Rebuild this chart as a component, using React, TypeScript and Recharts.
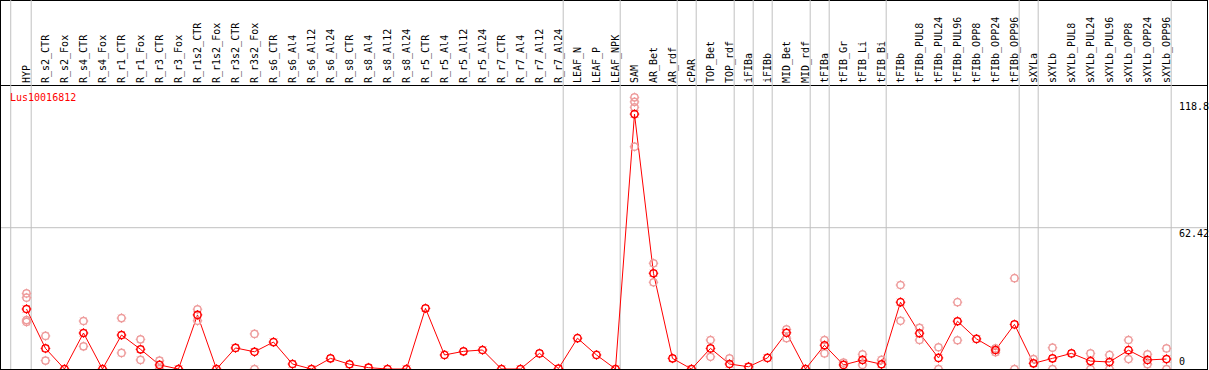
import React from "react";
import { ComposedChart, Line, Scatter, XAxis, YAxis, ReferenceLine } from "recharts";

const CATEGORIES = [
  "HYP", "R_s2_CTR", "R_s2_Fox", "R_s4_CTR", "R_s4_Fox", "R_r1_CTR", "R_r1_Fox", "R_r3_CTR", "R_r3_Fox",
  "R_r1s2_CTR", "R_r1s2_Fox", "R_r3s2_CTR", "R_r3s2_Fox", "R_s6_CTR", "R_s6_Al4", "R_s6_Al12", "R_s6_Al24",
  "R_s8_CTR", "R_s8_Al4", "R_s8_Al12", "R_s8_Al24", "R_r5_CTR", "R_r5_Al4", "R_r5_Al12", "R_r5_Al24",
  "R_r7_CTR", "R_r7_Al4", "R_r7_Al12", "R_r7_Al24", "LEAF_N", "LEAF_P", "LEAF_NPK", "SAM", "AR_Bet", "AR_rdf",
  "cPAR", "TOP_Bet", "TOP_rdf", "iFIBa", "iFIBb", "MID_Bet", "MID_rdf", "tFIBa", "tFIB_Gr", "tFIB_Li", "tFIB_Bi",
  "tFIBb", "tFIBb_PUL8", "tFIBb_PUL24", "tFIBb_PUL96", "tFIBb_OPP8", "tFIBb_OPP24", "tFIBb_OPP96",
  "sXYLa", "sXYLb", "sXYLb_PUL8", "sXYLb_PUL24", "sXYLb_PUL96", "sXYLb_OPP8", "sXYLb_OPP24", "sXYLb_OPP96",
];

const MEANS = [
  26.5, 9.1, 0, 15.9, 0, 15.0, 8.7, 1.8, 0,
  23.9, 0, 9.3, 7.6, 11.9, 2.2, 0, 4.7,
  2.1, 0.6, 0, 0, 26.8, 6.2, 7.8, 8.4,
  0, 0, 6.9, 0.2, 13.6, 6.2, 0, 112.6, 42.3, 4.7,
  0, 9.1, 2.2, 1.0, 4.9, 16.0, 0, 10.5, 1.8, 4.0, 2.1,
  29.5, 15.8, 4.9, 21.1, 13.3, 8.4, 19.7,
  2.5, 4.7, 6.9, 3.5, 3.1, 8.3, 4.0, 4.4,
];

// visible replicate values per category index
const REPLICATES: Record<number, number[]> = {
  0: [33.4, 31.5, 21.6, 20.8],
  1: [14.6, 3.7],
  3: [21.2, 10.0],
  5: [22.5, 7.1],
  6: [13.1, 4.0],
  7: [3.7, 0],
  9: [26.4, 21.3],
  12: [15.5, 0],
  32: [120.0, 118.0, 115.6, 98.2],
  33: [46.7, 38.3],
  36: [12.8, 5.4],
  37: [4.7],
  40: [17.5, 13.6],
  42: [12.8, 6.9],
  43: [2.8],
  44: [6.5, 1.8],
  45: [4.0],
  46: [37.1, 21.3],
  47: [18.2, 12.8],
  48: [9.6, 0],
  49: [29.5, 12.7],
  51: [9.1, 7.4],
  52: [40.1, 0],
  53: [4.4],
  54: [9.4, 0],
  56: [6.9, 0],
  57: [6.2, 0],
  58: [12.8, 4.4],
  59: [6.5, 2.1],
  60: [9.1, 0],
};

const Y_TICKS = [0, 62.42, 118.8];
const GROUP_ENDS = [0, 28, 31, 34, 35, 37, 38, 39, 41, 42, 45, 52, 53, 60];
const GENE = "Lus10016812";

const meanData = CATEGORIES.map((c, i) => ({ x: i, name: c, mean: MEANS[i] }));
const repData = Object.entries(REPLICATES).flatMap(([k, vals]) =>
  vals.map((v) => ({ x: Number(k), y: v }))
);

const MONO = "'DejaVu Sans Mono', monospace";
const RED = "#ff0000";
const PINK = "#ee9c9c";

const Gear = ({ cx, cy, color }: { cx: number; cy: number; color: string }) => {
  if (cx == null || cy == null || isNaN(cx) || isNaN(cy)) return null;
  const spikes = [0, 45, 90, 135, 180, 225, 270, 315].map((a) => {
    const r = (a * Math.PI) / 180;
    return (
      <line
        key={a}
        x1={cx + 3.4 * Math.cos(r)}
        y1={cy + 3.4 * Math.sin(r)}
        x2={cx + 4.8 * Math.cos(r)}
        y2={cy + 4.8 * Math.sin(r)}
        stroke={color}
        strokeWidth={1}
      />
    );
  });
  return (
    <g>
      <circle cx={cx} cy={cy} r={3.6} fill="none" stroke={color} strokeWidth={1.5} />
      {spikes}
    </g>
  );
};

const CategoryTick = (props: any) => {
  const { x, payload } = props;
  const label = CATEGORIES[payload.value];
  if (label == null) return null;
  const tx = x + 4;
  const ty = 83;
  return (
    <text
      x={tx}
      y={ty}
      transform={`rotate(-90 ${tx} ${ty})`}
      textAnchor="start"
      fontFamily={MONO}
      fontSize={10}
      fill="#000"
    >
      {label}
    </text>
  );
};

const ValueTick = (props: any) => {
  const { y, payload } = props;
  const v = payload.value;
  return (
    <text x={1179} y={y + (v === 0 ? -4 : 9.5)} textAnchor="start" fontFamily={MONO} fontSize={10} fill="#000">
      {String(v)}
    </text>
  );
};

export default function App() {
  return (
    <div style={{ position: "relative", width: 1209, height: 370, overflow: "hidden", background: "#fff" }}>
      <style>{`body{margin:0}`}</style>
      <div
        style={{
          position: "absolute",
          left: 0,
          top: 0,
          width: 1208,
          height: 370,
          boxSizing: "border-box",
          border: "1px solid #000",
        }}
      />
      <div style={{ position: "absolute", left: 0, top: 85, width: 1208, height: 1, background: "#000" }} />
      <div style={{ position: "absolute", left: 0, top: 0 }}>
        <ComposedChart width={1209} height={370} data={meanData} margin={{ top: -10, right: -8, bottom: 1, left: 1 }}>
          <XAxis
            dataKey="x"
            type="number"
            orientation="top"
            domain={[-1.342, 62.132]}
            allowDataOverflow
            ticks={CATEGORIES.map((_, i) => i)}
            interval={0}
            height={10}
            axisLine={false}
            tickLine={false}
            tick={<CategoryTick />}
          />
          <YAxis
            type="number"
            orientation="right"
            domain={[0, 163.0]}
            allowDataOverflow
            ticks={Y_TICKS}
            interval={0}
            width={10}
            axisLine={false}
            tickLine={false}
            tick={<ValueTick />}
          />
          <ReferenceLine y={62.42} stroke="#c0c0c0" strokeWidth={1} />
          <ReferenceLine x={-0.83} stroke="#c0c0c0" strokeWidth={1} />
          {GROUP_ENDS.map((g) => (
            <ReferenceLine key={g} x={g + 0.247} stroke="#c0c0c0" strokeWidth={1} />
          ))}
          <Scatter
            data={repData}
            dataKey="y"
            isAnimationActive={false}
            shape={(p: any) => <Gear cx={p.cx} cy={p.cy} color={PINK} />}
          />
          <Line
            dataKey="mean"
            type="linear"
            stroke={RED}
            strokeWidth={1}
            isAnimationActive={false}
            dot={(p: any) => <Gear key={p.index} cx={p.cx} cy={p.cy} color={RED} />}
            activeDot={false}
          />
        </ComposedChart>
      </div>
      <svg style={{ position: "absolute", left: 0, top: 0, pointerEvents: "none" }} width={1209} height={370}>
        <text x={10} y={101} fontFamily={MONO} fontSize={10} fill={RED}>
          {GENE}
        </text>
      </svg>
    </div>
  );
}
